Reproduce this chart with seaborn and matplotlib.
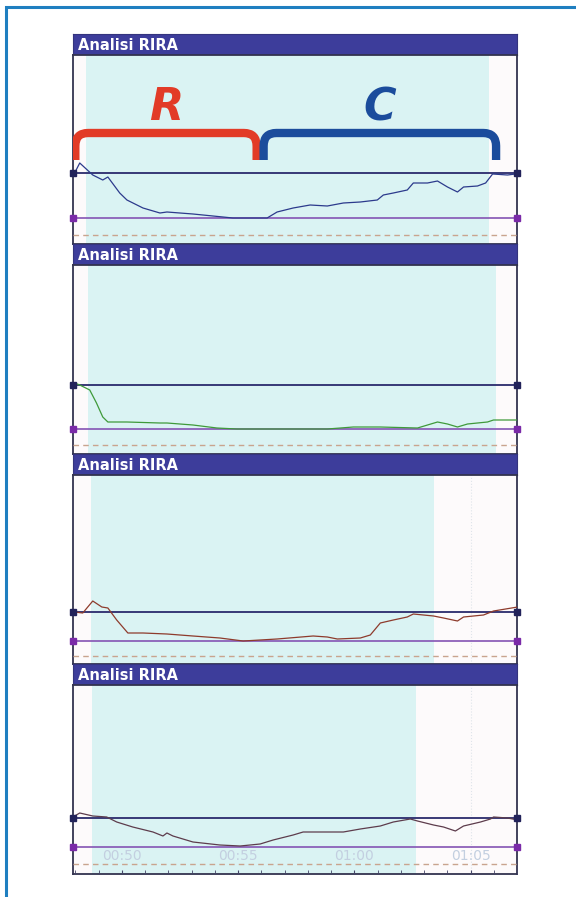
"""
Recreation of four stacked "Analisi RIRA" trace panels (R / C phases marked on the first).
Values are in pixel-like units above each panel's bottom edge; time is in seconds.
"""

import matplotlib
matplotlib.use("Agg")
import matplotlib.pyplot as plt
import numpy as np
import pandas as pd
import seaborn as sns
from matplotlib.patches import PathPatch, Rectangle
from matplotlib.path import Path

# --- data -----------------------------------------------------------------
P1_T = [47.97, 48.19, 48.75, 49.18, 49.40, 49.91, 50.22, 50.91, 51.64, 51.94,
        53.06, 53.92, 54.78, 56.25, 56.68, 57.37, 58.10, 58.84, 59.53, 60.26,
        60.99, 61.25, 61.68, 62.28, 62.54, 63.15, 63.58, 64.01, 64.44, 64.70,
        65.30, 65.65, 65.95, 66.59, 66.94]
P1_V = [71, 81, 69, 64, 67, 51, 44, 36, 31, 32,
        30, 28, 26, 26, 32, 36, 39, 38, 41, 42,
        44, 49, 51, 54, 61, 61, 63, 57, 52, 57,
        58, 61, 70, 69, 70]

P2_T = [47.97, 48.19, 48.62, 48.91, 49.18, 49.40, 50.22, 51.64, 51.94, 53.06,
        54.09, 54.96, 55.95, 58.84, 59.96, 61.12, 62.72, 63.15, 63.58, 64.01,
        64.44, 64.87, 65.73, 65.99, 67.03]
P2_V = [71, 69, 64, 51, 37, 32, 32, 31, 31, 29,
        26, 25, 25, 25, 27, 27, 26, 29, 32, 30,
        27, 30, 32, 34, 34]

P3_T = [47.97, 48.32, 48.75, 49.14, 49.40, 49.78, 50.26, 50.91, 51.94, 53.06,
        54.22, 55.22, 56.68, 58.23, 58.84, 59.27, 60.26, 60.69, 61.12, 61.68,
        62.28, 62.54, 63.41, 63.84, 64.44, 64.70, 65.56, 65.99, 67.03]
P3_V = [52, 51, 63, 57, 56, 44, 31, 31, 30, 28,
        26, 23, 25, 28, 27, 25, 26, 29, 41, 44,
        47, 50, 48, 46, 43, 47, 49, 53, 57]

P4_T = [47.97, 48.19, 48.75, 49.35, 49.78, 50.47, 51.34, 51.77, 51.94, 52.20,
        53.06, 54.22, 55.09, 55.95, 56.51, 57.37, 57.80, 59.53, 60.26, 61.12,
        61.68, 62.41, 62.72, 63.41, 63.84, 64.35, 64.70, 65.43, 65.86, 65.99,
        66.59, 67.03]
P4_V = [58, 61, 58, 57, 52, 47, 42, 38, 41, 38,
        32, 29, 28, 30, 34, 39, 42, 42, 45, 48,
        52, 55, 53, 49, 47, 43, 48, 52, 55, 57,
        56, 54]

TRACES_T = [P1_T, P2_T, P3_T, P4_T]
TRACES_V = [P1_V, P2_V, P3_V, P4_V]
TRACE_COLORS = ["#2c3a8c", "#3f9a3a", "#8e3b2c", "#5d3c4c"]

UPPER_LEVEL = [71, 69, 52, 56]
LOWER_LEVEL = [26, 25, 23, 27]
DASH_LEVEL = [9, 9, 8, 10]
SHADE_START = [48.45, 48.53, 48.66, 48.71]
SHADE_END = [65.78, 66.08, 63.41, 62.67]

TICK_TIMES = [50, 55, 60, 65]
TICK_LABELS = ["00:50", "00:55", "01:00", "01:05"]
T_MIN, T_MAX = 47.9, 67.0

PHASES = ["R", "C"]
PHASE_START = [48.0, 56.1]
PHASE_END = [55.8, 66.1]
PHASE_COLORS = ["#e23b27", "#1b4c9c"]

TITLE = "Analisi RIRA"

# --- layout (pixels of a 576x897 canvas) -----------------------------------
W, H = 576, 897
LEFT, RIGHT = 73, 517
TOP0, PANEL_H, BAR_H = 34, 210, 21

sns.set_style("white")
fig = plt.figure(figsize=(W / 100, H / 100), dpi=100)
fig.patch.set_facecolor("white")

# outer blue frame, running off the right and bottom edges
fig.patches.append(Rectangle((6 / W, -0.1), 1.2, 1.1 - 7 / H, transform=fig.transFigure,
                             fill=False, edgecolor="#1f7fc0", linewidth=2.2))


def bracket(ax, x0, x1, top, bottom, color):
    """Curly-cornered bracket spanning x0..x1."""
    rx, ry = 0.55, 13
    verts = [(x0, bottom), (x0, top - ry), (x0, top), (x0 + rx, top),
             (x1 - rx, top), (x1, top), (x1, top - ry), (x1, bottom)]
    codes = [Path.MOVETO, Path.LINETO, Path.CURVE3, Path.CURVE3,
             Path.LINETO, Path.CURVE3, Path.CURVE3, Path.LINETO]
    ax.add_patch(PathPatch(Path(verts, codes), fill=False, edgecolor=color,
                           linewidth=6, capstyle="butt", joinstyle="round", zorder=6))


for i in range(4):
    top = TOP0 + PANEL_H * i

    # title bar
    bar = fig.add_axes([LEFT / W, 1 - (top + BAR_H) / H, (RIGHT - LEFT) / W, BAR_H / H])
    bar.set_facecolor("#3d3d9b")
    bar.set_xticks([])
    bar.set_yticks([])
    for s in bar.spines.values():
        s.set_color("#34347e")
    bar.text(0.012, 0.47, TITLE, transform=bar.transAxes, color="white",
             fontsize=10.5, fontweight="bold", va="center", ha="left")

    # plot area
    ax = fig.add_axes([LEFT / W, 1 - (top + PANEL_H) / H, (RIGHT - LEFT) / W,
                       (PANEL_H - BAR_H) / H])
    ax.set_facecolor("#fdfafb")
    ax.set_xlim(T_MIN, T_MAX)
    ax.set_ylim(0, PANEL_H - BAR_H)
    ax.set_axisbelow(False)

    for t in TICK_TIMES:
        ax.axvline(t, color="#dfe4ea", linestyle=":", linewidth=0.8, zorder=0.2)
    ax.axvspan(SHADE_START[i], SHADE_END[i], color="#daf3f3", linewidth=0, zorder=0.3)

    ax.axhline(UPPER_LEVEL[i], color="#2a2a6c", linewidth=1.3, zorder=3)
    ax.axhline(LOWER_LEVEL[i], color="#8454b4", linewidth=1.2, zorder=3)
    ax.axhline(DASH_LEVEL[i], color="#c9a48e", linewidth=1.0,
               linestyle=(0, (4, 3)), zorder=3)
    ax.plot([T_MIN, T_MAX], [UPPER_LEVEL[i]] * 2, "s", color="#22225a",
            markersize=4.5, clip_on=False, zorder=7)
    ax.plot([T_MIN, T_MAX], [LOWER_LEVEL[i]] * 2, "s", color="#7a2aa8",
            markersize=4.5, clip_on=False, zorder=7)

    df = pd.DataFrame({"t": TRACES_T[i], "v": TRACES_V[i]})
    sns.lineplot(data=df, x="t", y="v", color=TRACE_COLORS[i], linewidth=0.9,
                 estimator=None, sort=False, ax=ax, zorder=5)
    ax.set_xlabel("")
    ax.set_ylabel("")
    ax.set_yticks([])

    if i == 3:
        ax.set_xticks(TICK_TIMES)
        ax.set_xticklabels(TICK_LABELS)
        ax.set_xticks(np.arange(48, 68, 1), minor=True)
        ax.tick_params(axis="x", which="both", direction="in", length=3,
                       color="#444466", bottom=True, pad=-18,
                       labelsize=10, labelcolor="#c3cfe0")
    else:
        ax.set_xticks([])

    for s in ax.spines.values():
        s.set_color("#33334f")
        s.set_linewidth(1.3)

    if i == 0:
        for name, x0, x1, col in zip(PHASES, PHASE_START, PHASE_END, PHASE_COLORS):
            bracket(ax, x0, x1, 111, 84, col)
            ax.text((x0 + x1) / 2, 136, name, color=col, fontsize=32,
                    fontweight="bold", fontstyle="italic", ha="center", va="center",
                    zorder=6)

fig.savefig("out.png", dpi=100)
plt.close(fig)
